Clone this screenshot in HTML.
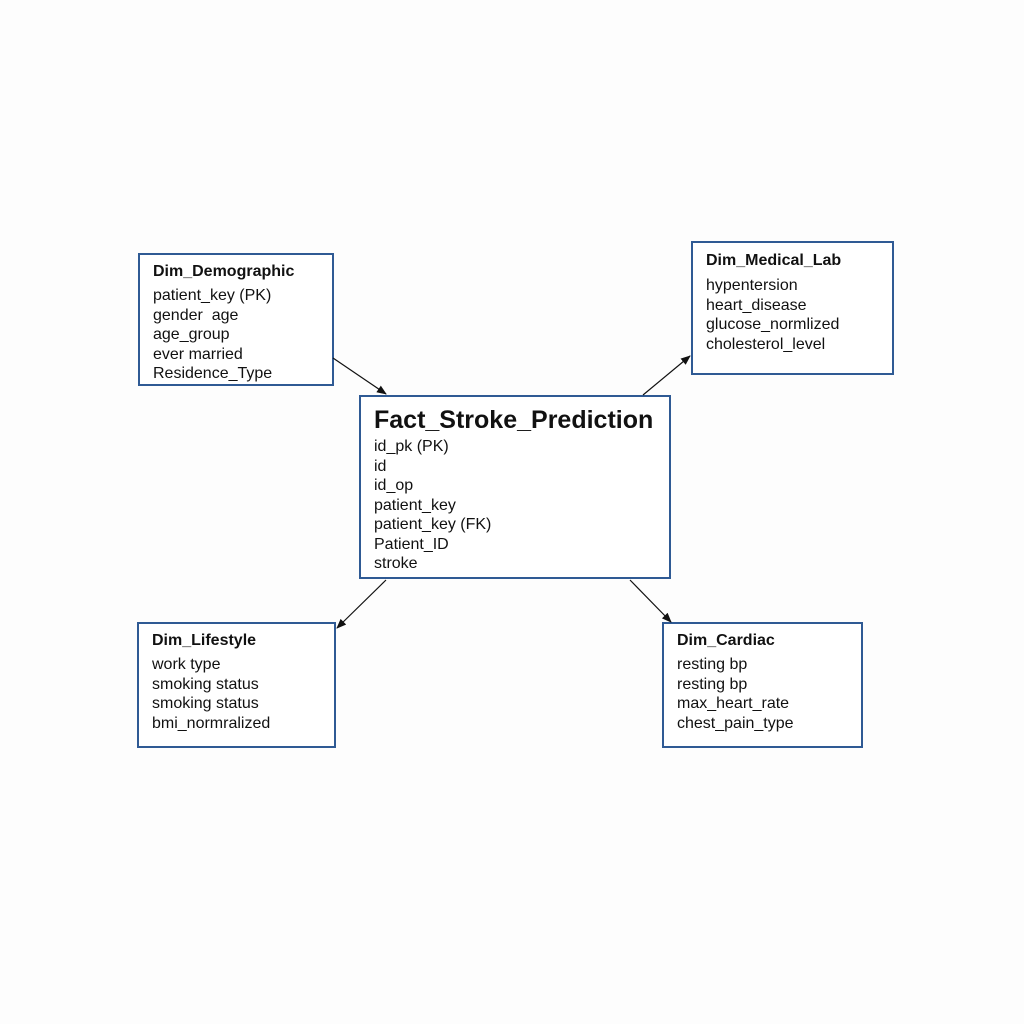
<!DOCTYPE html>
<html><head><style>
body{margin:0;width:1024px;height:1024px;background:#fdfdfd;position:relative;font-family:"Liberation Sans",Arial,sans-serif;color:#111;}
.b{position:absolute;border:2px solid #2f5a94;background:#fff;box-sizing:border-box;padding-left:13px;}
.t{font-weight:bold;font-size:16px;}
.i{font-size:16px;line-height:19.5px;}
svg{position:absolute;left:0;top:0}
</style></head><body>
<div class="b" style="left:138px;top:253px;width:196px;height:133px;padding-top:8px">
<div class="t" style="margin-bottom:5px">Dim_Demographic</div>
<div class="i">patient_key (PK)<br>gender&nbsp; age<br>age_group<br>ever married<br>Residence_Type</div></div>
<div class="b" style="left:691px;top:241px;width:203px;height:134px;padding-top:9px">
<div class="t" style="margin-bottom:6px">Dim_Medical_Lab</div>
<div class="i">hypentersion<br>heart_disease<br>glucose_normlized<br>cholesterol_level</div></div>
<div class="b" style="left:359px;top:395px;width:312px;height:184px;padding-top:9px">
<div class="t" style="font-size:25px;margin-bottom:2px">Fact_Stroke_Prediction</div>
<div class="i">id_pk (PK)<br>id<br>id_op<br>patient_key<br>patient_key (FK)<br>Patient_ID<br>stroke</div></div>
<div class="b" style="left:137px;top:622px;width:199px;height:126px;padding-top:8px">
<div class="t" style="margin-bottom:5px">Dim_Lifestyle</div>
<div class="i">work type<br>smoking status<br>smoking status<br>bmi_normralized</div></div>
<div class="b" style="left:662px;top:622px;width:201px;height:126px;padding-top:8px">
<div class="t" style="margin-bottom:5px">Dim_Cardiac</div>
<div class="i">resting bp<br>resting bp<br>max_heart_rate<br>chest_pain_type</div></div>
<svg width="1024" height="1024"><defs><marker id="a" markerWidth="10" markerHeight="8" refX="9" refY="4" orient="auto" markerUnits="userSpaceOnUse"><path d="M0,0L10,4L0,8z" fill="#111"/></marker></defs>
<g stroke="#111" stroke-width="1.2" marker-end="url(#a)">
<line x1="333" y1="358" x2="386" y2="394"/>
<line x1="643" y1="395" x2="690" y2="356"/>
<line x1="386" y1="580" x2="337" y2="628"/>
<line x1="630" y1="580" x2="671" y2="622"/>
</g></svg>
</body></html>
